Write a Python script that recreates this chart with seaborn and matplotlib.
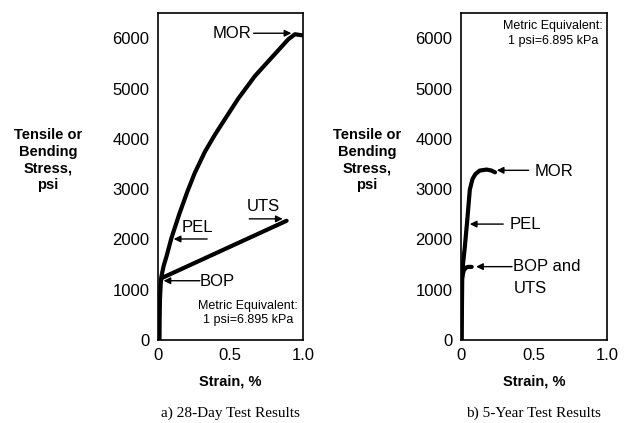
import matplotlib
matplotlib.use("Agg")
import matplotlib.pyplot as plt
import seaborn as sns
import pandas as pd

sns.set_style("white")
plt.rcParams['font.family'] = ['Liberation Sans', 'DejaVu Sans']
plt.rcParams['text.color'] = 'black'
plt.rcParams['axes.labelcolor'] = 'black'
plt.rcParams['xtick.color'] = 'black'
plt.rcParams['ytick.color'] = 'black'

# ---- data: a) 28-day ----
a_mor_x = [0.012, 0.013, 0.015, 0.02, 0.025, 0.04, 0.06, 0.094, 0.15, 0.205, 0.255, 0.324, 0.393, 0.462, 0.554, 0.669, 0.784, 0.899, 0.945, 0.99]
a_mor_y = [0, 400, 800, 1100, 1262, 1470, 1661, 2027, 2520, 2960, 3323, 3740, 4080, 4390, 4800, 5249, 5615, 5980, 6080, 6060]
a_uts_x = [0.025, 0.887]
a_uts_y = [1230, 2372]

# ---- data: b) 5-year ----
b_mor_x = [0.007, 0.008, 0.01, 0.015, 0.028, 0.045, 0.062, 0.08, 0.1, 0.13, 0.177, 0.21, 0.234]
b_mor_y = [0, 600, 1200, 1500, 1855, 2400, 2990, 3200, 3300, 3370, 3390, 3370, 3335]
b_bop_x = [0.01, 0.02, 0.035, 0.05, 0.075]
b_bop_y = [1250, 1380, 1440, 1455, 1455]

y_ticks = [0, 1000, 2000, 3000, 4000, 5000, 6000]
x_ticks = [0, 0.5, 1.0]
x_labels = ["0", "0.5", "1.0"]

fig = plt.figure(figsize=(6.26, 4.23), dpi=100)
axa = fig.add_axes([0.252, 0.196, 0.232, 0.773])
axb = fig.add_axes([0.736, 0.196, 0.234, 0.773])

def line(ax, xs, ys):
    df = pd.DataFrame({"x": xs, "y": ys})
    sns.lineplot(data=df, x="x", y="y", ax=ax, sort=False, estimator=None,
                 color="black", linewidth=3, solid_capstyle="round",
                 solid_joinstyle="round")

line(axa, a_mor_x, a_mor_y)
line(axa, a_uts_x, a_uts_y)
line(axb, b_mor_x, b_mor_y)
line(axb, b_bop_x, b_bop_y)

for ax in (axa, axb):
    ax.set_xlim(0, 1.0)
    ax.set_ylim(0, 6500)
    ax.set_yticks(y_ticks)
    ax.set_yticklabels([str(v) for v in y_ticks])
    ax.set_xticks(x_ticks)
    ax.set_xticklabels(x_labels)
    ax.tick_params(direction="in", length=7, width=1, labelsize=12, colors="black", pad=6)
    for s in ax.spines.values():
        s.set_color("black")
        s.set_linewidth(1.2)
        s.set_visible(True)
    ax.set_xlabel("Strain, %", fontsize=10.5, fontweight="bold", labelpad=8)
    ax.set_ylabel("")

ylab = "Tensile or\nBending\nStress,\npsi"
fig.text(48/626, 1-160/423, ylab, ha="center", va="center", fontsize=10.5,
         fontweight="bold", linespacing=1.25)
fig.text(367/626, 1-160/423, ylab, ha="center", va="center", fontsize=10.5,
         fontweight="bold", linespacing=1.25)

fig.text(230/626, 1-413/423, "a) 28-Day Test Results", ha="center", va="center",
         fontsize=11, family=["Liberation Serif"])
fig.text(533/626, 1-413/423, "b) 5-Year Test Results", ha="center", va="center",
         fontsize=11, family=["Liberation Serif"])

ap = dict(arrowstyle="-|>", color="black", lw=1, mutation_scale=10, shrinkA=0, shrinkB=0)

# a annotations
axa.text(0.51, 6100, "MOR", ha="center", va="center", fontsize=12)
axa.annotate("", xy=(0.92, 6100), xytext=(0.66, 6100), arrowprops=ap)
axa.text(0.73, 2660, "UTS", ha="center", va="center", fontsize=12)
axa.annotate("", xy=(0.86, 2410), xytext=(0.63, 2410), arrowprops=ap)
axa.text(0.27, 2240, "PEL", ha="center", va="center", fontsize=12)
axa.annotate("", xy=(0.11, 2010), xytext=(0.34, 2010), arrowprops=ap)
axa.text(0.41, 1170, "BOP", ha="center", va="center", fontsize=12)
axa.annotate("", xy=(0.04, 1180), xytext=(0.29, 1180), arrowprops=ap)
axa.text(0.62, 538, "Metric Equivalent:\n1 psi=6.895 kPa", ha="center", va="center",
         fontsize=9, linespacing=1.3)

# b annotations
axb.text(0.64, 3360, "MOR", ha="center", va="center", fontsize=12)
axb.annotate("", xy=(0.246, 3375), xytext=(0.464, 3375), arrowprops=ap)
axb.text(0.44, 2306, "PEL", ha="center", va="center", fontsize=12)
axb.annotate("", xy=(0.062, 2306), xytext=(0.29, 2306), arrowprops=ap)
axb.text(0.36, 1460, "BOP and", ha="left", va="center", fontsize=12)
axb.text(0.36, 1030, "UTS", ha="left", va="center", fontsize=12)
axb.annotate("", xy=(0.105, 1460), xytext=(0.35, 1460), arrowprops=ap)
axb.text(0.628, 6090, "Metric Equivalent:\n1 psi=6.895 kPa", ha="center", va="center",
         fontsize=9, linespacing=1.3)

fig.savefig("out.png", dpi=100, facecolor="white")
